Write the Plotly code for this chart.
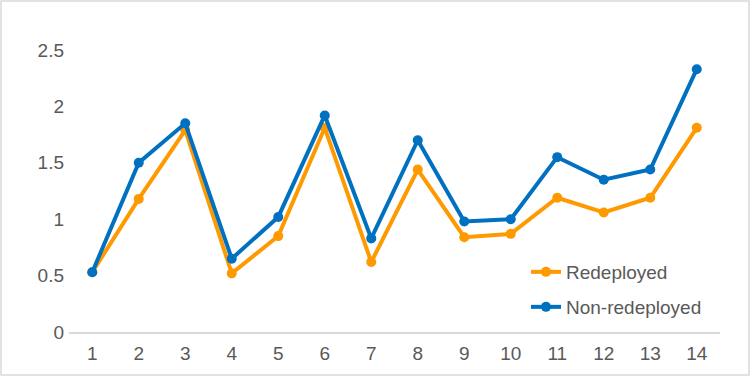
import plotly.graph_objects as go

categories = [str(i) for i in range(1, 15)]
redeployed = [0.53, 1.18, 1.79, 0.52, 0.85, 1.81, 0.62, 1.44, 0.84, 0.87, 1.19, 1.06, 1.19, 1.81]
non_redeployed = [0.53, 1.50, 1.85, 0.65, 1.02, 1.92, 0.83, 1.70, 0.98, 1.00, 1.55, 1.35, 1.44, 2.33]
y_ticks = [0, 0.5, 1, 1.5, 2, 2.5]
y_tick_text = ["0", "0.5", "1", "1.5", "2", "2.5"]

ORANGE = "#FF9900"
BLUE = "#0070C0"
FONT = "Liberation Sans, Arial, sans-serif"
TXT = "#595959"

W, H = 751, 378
ml, mr, mt, mb = 69, 31, 50, 46

fig = go.Figure()
fig.add_trace(go.Scatter(x=categories, y=redeployed, name="Redeployed", mode="lines+markers",
                         line=dict(color=ORANGE, width=4), marker=dict(color=ORANGE, size=10),
                         legend="legend"))
fig.add_trace(go.Scatter(x=categories, y=non_redeployed, name="Non-redeployed", mode="lines+markers",
                         line=dict(color=BLUE, width=4), marker=dict(color=BLUE, size=10),
                         legend="legend2"))

pw = W - ml - mr
ph = H - mt - mb
def px_x(x):
    return (x - ml) / pw
def px_y(y):
    return (H - mb - y) / ph

leg_common = dict(font=dict(family=FONT, size=19, color=TXT), bgcolor="rgba(0,0,0,0)",
                  xanchor="left", yanchor="middle", itemwidth=30)
fig.update_layout(
    width=W, height=H,
    margin=dict(l=ml, r=mr, t=mt, b=mb),
    paper_bgcolor="white", plot_bgcolor="white",
    font=dict(family=FONT, size=19, color=TXT),
    showlegend=True,
    legend=dict(x=px_x(526), y=px_y(272), **leg_common),
    legend2=dict(x=px_x(526), y=px_y(307), **leg_common),
    xaxis=dict(type="category", range=[-0.5, 13.5], showgrid=False, showline=True,
               linecolor="#d9d9d9", linewidth=1.5, ticks="", zeroline=False,
               tickfont=dict(family=FONT, size=19, color=TXT), ticklabelstandoff=3),
    yaxis=dict(range=[0, 2.5], tickvals=y_ticks, ticktext=y_tick_text, showgrid=False,
               showline=False, zeroline=False, ticks="",
               tickfont=dict(family=FONT, size=19, color=TXT), ticklabelstandoff=4),
    shapes=[dict(type="rect", xref="paper", yref="paper",
                 x0=px_x(1), x1=px_x(W - 2), y0=px_y(1), y1=px_y(H - 3),
                 line=dict(color="#d9d9d9", width=1.5), fillcolor="rgba(0,0,0,0)", layer="below")],
)

fig.write_html("out.html")
